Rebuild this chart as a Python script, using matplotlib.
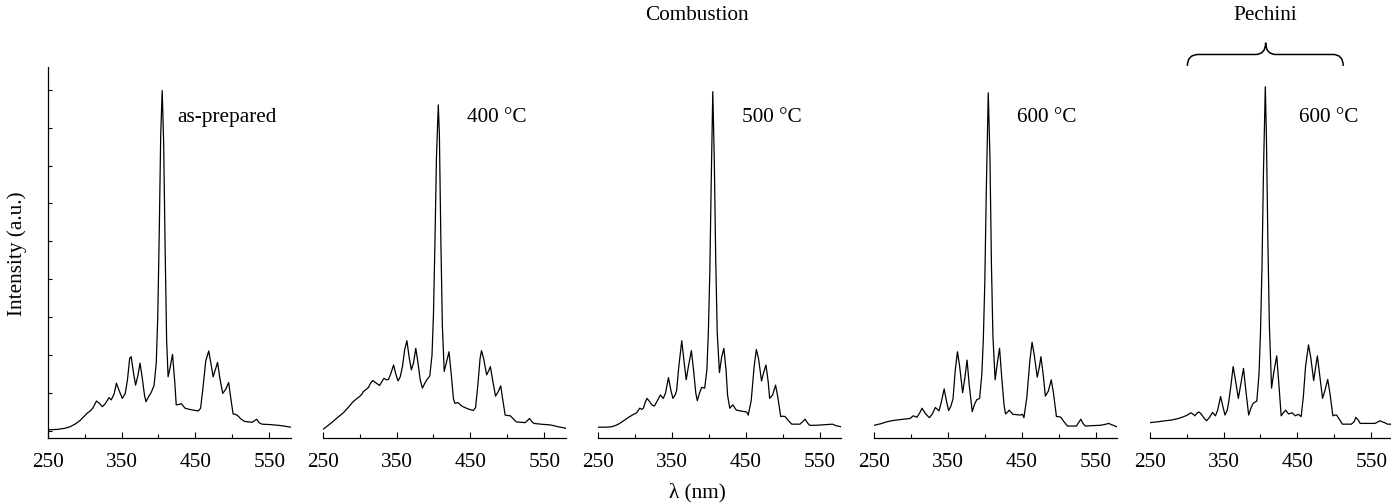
import numpy as np
import matplotlib
matplotlib.use('Agg')
import matplotlib.pyplot as plt
from matplotlib.path import Path
from matplotlib.patches import PathPatch

plt.rcParams['font.family'] = ['Liberation Serif', 'DejaVu Serif']

# spectra (wavelength nm, intensity in tick units)
wl_prep = [250, 262, 273, 280, 287, 294, 300, 304, 307, 311, 316, 320, 324, 328, 333, 336, 340, 343, 347, 351,
           355, 358, 361, 363, 366, 369, 372, 375, 378, 381, 383, 387, 390, 394, 397, 399, 401, 403, 405, 407,
           409, 411, 413, 416, 419, 422, 424, 428, 431, 436, 442, 447, 454, 457, 460, 464, 468, 471, 474, 477,
           480, 483, 487, 491, 495, 498, 501, 504, 507, 512, 517, 522, 527, 530, 533, 536, 540, 550, 562, 570,
           576, 579]
int_prep = [0.03, 0.04, 0.07, 0.11, 0.18, 0.28, 0.40, 0.48, 0.52, 0.60, 0.79, 0.73, 0.64, 0.72, 0.88, 0.82, 0.98, 1.26, 1.05, 0.86,
            0.99, 1.35, 1.92, 1.96, 1.55, 1.21, 1.45, 1.79, 1.40, 0.95, 0.77, 0.92, 1.01, 1.20, 1.80, 3.0, 5.2, 7.8, 8.98, 7.6,
            4.8, 2.4, 1.43, 1.70, 2.02, 1.30, 0.69, 0.70, 0.72, 0.60, 0.57, 0.55, 0.53, 0.60, 1.10, 1.85, 2.11, 1.78, 1.43, 1.62,
            1.81, 1.40, 0.99, 1.10, 1.28, 0.85, 0.45, 0.44, 0.41, 0.31, 0.25, 0.24, 0.23, 0.27, 0.31, 0.22, 0.18, 0.17, 0.15, 0.13,
            0.11, 0.10]

wl_400 = [250, 257, 264, 271, 278, 285, 291, 296, 300, 303, 305, 308, 312, 315, 318, 322, 327, 330, 333, 336,
          339, 342, 346, 349, 352, 355, 358, 361, 364, 367, 370, 373, 376, 379, 382, 385, 388, 391, 395, 398,
          400, 402, 404, 406.5, 408, 410, 412, 414.5, 418, 421, 424, 427, 429, 433, 437, 440, 447, 454, 457, 460,
          463, 465, 468, 472, 475, 477, 480, 484, 488, 491, 494, 497, 500, 504, 508, 512, 518, 524, 527, 530,
          533, 536, 545, 558, 565, 569, 575, 579]
int_400 = [0.04, 0.14, 0.25, 0.37, 0.48, 0.63, 0.77, 0.85, 0.91, 0.97, 1.04, 1.08, 1.15, 1.27, 1.33, 1.27, 1.20, 1.30, 1.39, 1.35,
           1.36, 1.50, 1.74, 1.50, 1.32, 1.43, 1.70, 2.15, 2.38, 1.95, 1.61, 1.80, 2.18, 1.80, 1.35, 1.13, 1.25, 1.35, 1.45, 2.0,
           3.1, 5.0, 7.2, 8.6, 7.8, 5.0, 2.8, 1.57, 1.85, 2.09, 1.50, 0.85, 0.73, 0.75, 0.68, 0.64, 0.58, 0.54, 0.62, 1.2,
           1.90, 2.12, 1.90, 1.48, 1.60, 1.70, 1.35, 0.92, 1.05, 1.19, 0.80, 0.42, 0.41, 0.40, 0.32, 0.24, 0.23, 0.22, 0.27, 0.33,
           0.25, 0.20, 0.18, 0.16, 0.13, 0.11, 0.09, 0.07]

wl_500 = [250, 260, 268, 274, 279, 285, 291, 296, 302, 306, 309, 311, 314, 316, 320, 323, 326, 330, 334, 338,
          341, 345, 348, 351, 354, 356, 359, 363, 366, 369, 372, 376, 379, 382, 384, 387, 390, 394, 397, 399,
          401, 403, 405, 407, 409, 411, 414, 417, 420, 423, 425, 428, 432, 437, 442, 448, 451, 453, 457, 461,
          464, 467, 471, 474, 477, 480, 482, 486, 490, 493, 497, 500, 503, 507, 512, 518, 523, 527, 530, 533,
          536, 545, 552, 560, 567, 572, 579]
int_500 = [0.10, 0.10, 0.11, 0.15, 0.20, 0.28, 0.36, 0.42, 0.48, 0.60, 0.57, 0.60, 0.78, 0.86, 0.76, 0.68, 0.66, 0.80, 0.95, 0.86,
           1.00, 1.41, 1.10, 0.86, 0.95, 1.06, 1.70, 2.38, 1.85, 1.35, 1.70, 2.12, 1.60, 1.00, 0.80, 1.00, 1.15, 1.13, 1.6, 2.6,
           4.2, 6.7, 8.95, 7.2, 4.5, 2.6, 1.54, 1.95, 2.18, 1.60, 0.95, 0.60, 0.69, 0.55, 0.53, 0.51, 0.50, 0.42, 0.80, 1.70,
           2.15, 1.90, 1.32, 1.55, 1.74, 1.30, 0.86, 0.95, 1.21, 0.90, 0.38, 0.39, 0.38, 0.28, 0.18, 0.18, 0.18, 0.25, 0.31, 0.22,
           0.15, 0.15, 0.16, 0.17, 0.18, 0.14, 0.11]

wl_600 = [250, 259, 267, 274, 281, 290, 299, 303, 306, 308, 312, 315, 320, 325, 329, 333, 338, 341, 345, 348,
          351, 354, 357, 360, 363, 366, 370, 373, 376, 379, 383, 386, 389, 393, 396, 398, 400, 402, 404.7, 407,
          409, 411, 414, 417, 420, 423, 426, 428, 431, 433, 438, 443, 448, 451, 453, 457, 461, 464, 467, 471,
          474, 476, 479, 482, 486, 490, 493, 497, 500, 503, 507, 512, 518, 524, 527, 530, 533, 536, 545, 556,
          562, 568, 571, 574, 579]
int_600 = [0.15, 0.19, 0.24, 0.27, 0.29, 0.31, 0.33, 0.40, 0.38, 0.36, 0.48, 0.60, 0.45, 0.35, 0.45, 0.62, 0.53, 0.75, 1.11, 0.80,
           0.54, 0.65, 0.85, 1.60, 2.09, 1.70, 1.01, 1.40, 1.87, 1.20, 0.51, 0.70, 0.82, 0.86, 1.5, 2.4, 3.9, 6.3, 8.92, 7.2,
           4.4, 2.5, 1.35, 1.80, 2.18, 1.40, 0.70, 0.45, 0.50, 0.55, 0.44, 0.43, 0.42, 0.44, 0.35, 0.90, 1.85, 2.34, 2.0, 1.42,
           1.70, 1.96, 1.50, 0.92, 1.05, 1.35, 1.00, 0.38, 0.38, 0.36, 0.25, 0.13, 0.13, 0.13, 0.22, 0.31, 0.20, 0.13, 0.14, 0.15,
           0.17, 0.20, 0.17, 0.15, 0.11]

wl_pech = [250, 260, 271, 280, 289, 295, 300, 306, 309, 311, 314, 317, 320, 324, 327, 331, 335, 339, 342, 346,
           349, 352, 355, 357, 360, 363, 366, 370, 373, 377, 380, 384, 387, 390, 395, 398, 400, 402, 404, 406.5,
           408, 410, 412, 415, 418, 422, 425, 428, 431, 434, 438, 443, 447, 451, 455, 458, 461, 465, 468, 472,
           474, 477, 480, 484, 487, 491, 494, 498, 501, 503, 507, 511, 517, 523, 527, 529, 532, 535, 545, 555,
           558, 562, 565, 568, 572, 576, 579]
int_pech = [0.22, 0.24, 0.27, 0.29, 0.33, 0.37, 0.41, 0.48, 0.44, 0.40, 0.47, 0.50, 0.44, 0.33, 0.27, 0.36, 0.49, 0.40, 0.55, 0.91,
            0.65, 0.42, 0.55, 0.77, 1.20, 1.70, 1.35, 0.86, 1.20, 1.65, 1.10, 0.42, 0.60, 0.73, 0.79, 1.5, 2.6, 4.3, 6.8, 9.08,
            7.8, 5.0, 2.8, 1.13, 1.55, 1.98, 1.20, 0.40, 0.48, 0.55, 0.45, 0.48, 0.40, 0.44, 0.38, 0.90, 1.70, 2.27, 1.95, 1.33,
            1.60, 1.98, 1.50, 0.86, 1.05, 1.36, 1.00, 0.40, 0.42, 0.42, 0.30, 0.18, 0.18, 0.18, 0.25, 0.36, 0.30, 0.20, 0.20, 0.20,
            0.23, 0.27, 0.24, 0.22, 0.18, 0.18, 0.16]

spectra = [(wl_prep, int_prep), (wl_400, int_400), (wl_500, int_500), (wl_600, int_600), (wl_pech, int_pech)]
labels = ['as-prepared', '400 °C', '500 °C', '600 °C', '600 °C']
label_x = [426, 445, 445, 444, 452]

fs = 15.3
fig = plt.figure(figsize=(13.91, 5.04), dpi=100)
lefts = [47.7, 322.7, 598.3, 874.0, 1149.7]
axes = []
for i, (wl, inten) in enumerate(spectra):
    ax = fig.add_axes([lefts[i] / 1391, 66 / 504, 243 / 1391, 371 / 504])
    ax.plot(wl, inten, color='black', lw=0.9)
    ax.set_xlim(250, 579)
    ax.set_ylim(-0.185, 9.6)
    ax.set_xticks([250, 350, 450, 550])
    ax.set_xticks([300, 400, 500], minor=True)
    ax.tick_params(axis='x', which='major', direction='in', length=4.5, width=0.8, labelsize=fs, pad=11)
    ax.tick_params(axis='x', which='minor', direction='in', length=3, width=0.8)
    for s in ['top', 'right']:
        ax.spines[s].set_visible(False)
    ax.spines['bottom'].set_linewidth(0.9)
    if i == 0:
        ax.set_yticks(np.arange(0, 10))
        ax.set_yticklabels([])
        ax.tick_params(axis='y', direction='in', length=3, width=0.8)
        ax.spines['left'].set_linewidth(0.9)
    else:
        ax.spines['left'].set_visible(False)
        ax.set_yticks([])
    ax.text(label_x[i], 8.26, labels[i], fontsize=fs, va='center', ha='left')
    axes.append(ax)

# brace over the Pechini panel
ax5 = axes[4]
verts = [(301, 9.63), (301, 9.93), (316, 9.93), (393, 9.93), (407, 9.93), (407, 10.24),
         (407, 9.93), (421, 9.93), (498, 9.93), (512, 9.93), (512, 9.63)]
codes = [Path.MOVETO, Path.CURVE3, Path.CURVE3, Path.LINETO, Path.CURVE3, Path.CURVE3,
         Path.CURVE3, Path.CURVE3, Path.LINETO, Path.CURVE3, Path.CURVE3]
ax5.add_patch(PathPatch(Path(verts, codes), fill=False, lw=1.1, color='black', clip_on=False))

fig.text(17 / 1391, 1 - 254 / 504, 'Intensity (a.u.)', fontsize=fs, ha='center', va='center', rotation=90)
fig.text(697 / 1391, 1 - 15 / 504, 'Combustion', fontsize=fs, ha='center', va='center')
fig.text(1265.5 / 1391, 1 - 15 / 504, 'Pechini', fontsize=fs, ha='center', va='center')
fig.text(697 / 1391, 1 - 493 / 504, 'λ (nm)', fontsize=fs, ha='center', va='center')

fig.savefig('out.png', dpi=100)
